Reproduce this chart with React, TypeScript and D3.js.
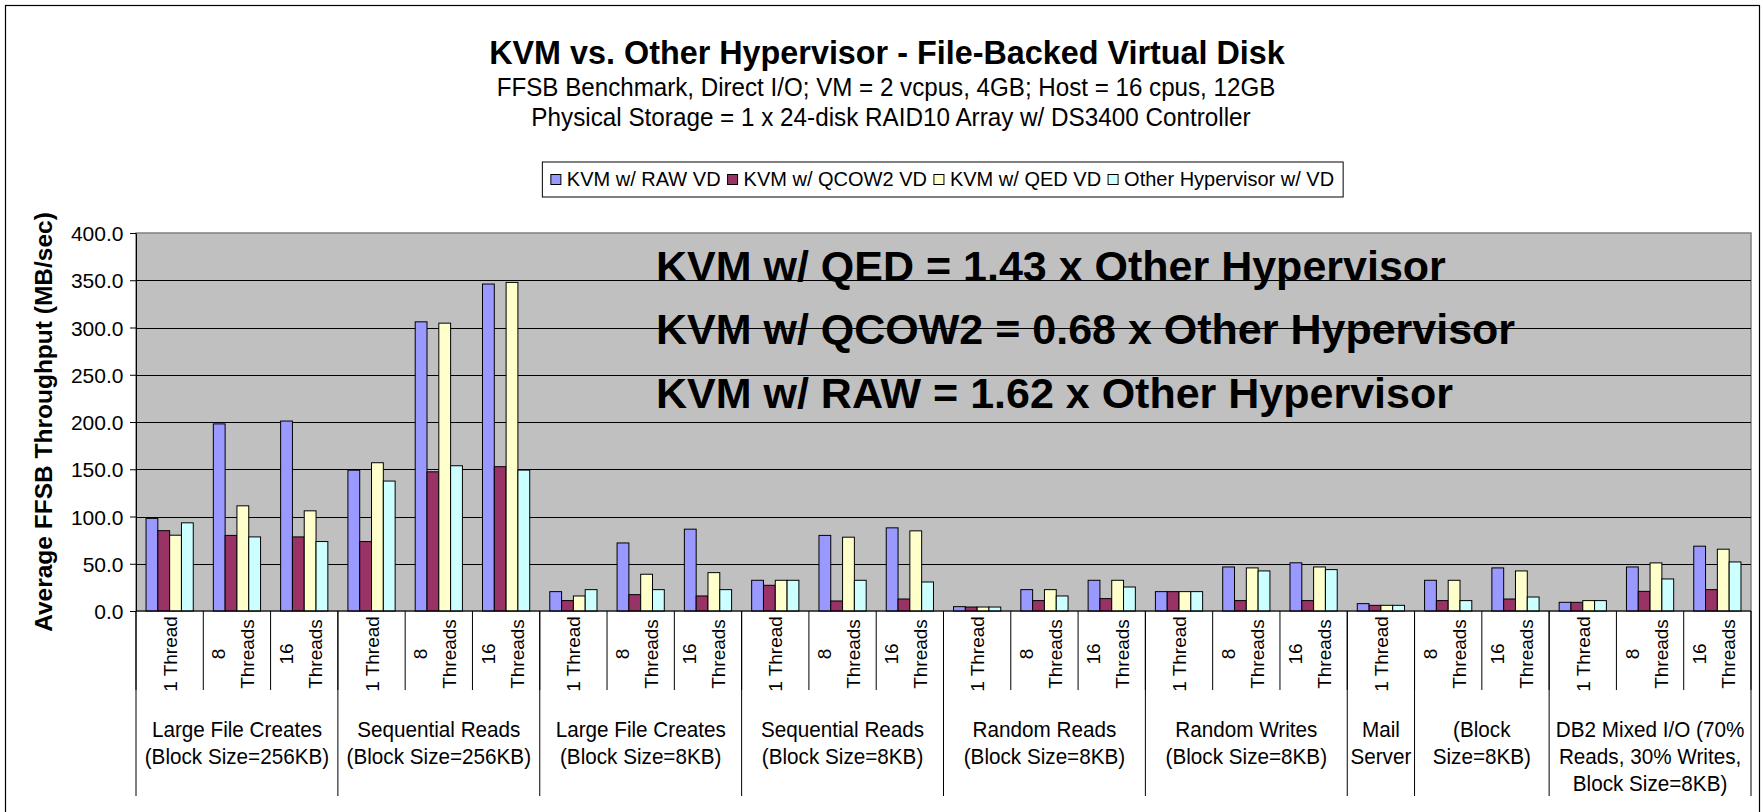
import { useEffect, useRef } from "react";
import * as d3 from "d3";

// series + colours (Excel default palette)
const series = ["KVM w/ RAW VD", "KVM w/ QCOW2 VD", "KVM w/ QED VD", "Other Hypervisor w/ VD"];
const colors = ["#9999FF", "#993366", "#FFFFCC", "#CCFFFF"];

// 24 categories, each label as its wrapped lines
const categoryLabels = [
  ["1 Thread"], ["8", "Threads"], ["16", "Threads"],
  ["1 Thread"], ["8", "Threads"], ["16", "Threads"],
  ["1 Thread"], ["8", "Threads"], ["16", "Threads"],
  ["1 Thread"], ["8", "Threads"], ["16", "Threads"],
  ["1 Thread"], ["8", "Threads"], ["16", "Threads"],
  ["1 Thread"], ["8", "Threads"], ["16", "Threads"],
  ["1 Thread"],
  ["8", "Threads"], ["16", "Threads"],
  ["1 Thread"], ["8", "Threads"], ["16", "Threads"],
];

const groupLabels = [
  ["Large File Creates", "(Block Size=256KB)"],
  ["Sequential Reads", "(Block Size=256KB)"],
  ["Large File Creates", "(Block Size=8KB)"],
  ["Sequential Reads", "(Block Size=8KB)"],
  ["Random Reads", "(Block Size=8KB)"],
  ["Random Writes", "(Block Size=8KB)"],
  ["Mail", "Server"],
  ["(Block", "Size=8KB)"],
  ["DB2 Mixed I/O (70%", "Reads, 30% Writes,", "Block Size=8KB)"],
];
const groupSizes = [3, 3, 3, 3, 3, 3, 1, 2, 3];

// MB/sec
const rawVD = [98, 198, 201, 149, 306, 346, 20.5, 72, 86.6, 32.5, 80, 88, 4.6, 22.6, 32.5, 20.5, 46.6, 51, 7.8, 32.5, 45.6, 9.2, 46.6, 68.6];
const qcow2VD = [85, 80, 78.4, 73.5, 147.3, 152.7, 11, 17.3, 15.9, 27.2, 10.6, 12.7, 4.2, 11, 13.1, 20.5, 11, 11, 6, 11, 12.7, 9.2, 20.8, 22.6];
const qedVD = [80.2, 111.3, 106, 156.9, 304.6, 347.7, 15.9, 38.9, 40.6, 32.5, 78.1, 84.8, 4.2, 22.6, 32.5, 20.5, 45.6, 46.6, 6, 32.5, 42.4, 11, 50.9, 65.4];
const otherVD = [93.3, 78.4, 73.5, 137.5, 153.7, 149.1, 22.6, 22.6, 22.6, 32.5, 32.5, 30.7, 4.2, 15.9, 25.4, 20.5, 42.4, 43.8, 6, 11, 14.8, 11, 33.9, 51.9];
const values = [rawVD, qcow2VD, qedVD, otherVD];

const yTicks = [0, 50, 100, 150, 200, 250, 300, 350, 400];

const title = "KVM vs. Other Hypervisor - File-Backed Virtual Disk";
const subtitles = [
  "FFSB Benchmark, Direct I/O; VM = 2 vcpus, 4GB; Host = 16 cpus, 12GB",
  "Physical Storage = 1 x 24-disk RAID10 Array w/ DS3400 Controller",
];
const yTitle = "Average FFSB Throughput (MB/sec)";
const notes = [
  "KVM w/ QED = 1.43 x Other Hypervisor",
  "KVM w/ QCOW2 = 0.68 x Other Hypervisor",
  "KVM w/ RAW = 1.62 x Other Hypervisor",
];

export default function App() {
  const ref = useRef<SVGSVGElement>(null);

  useEffect(() => {
    const width = 1764;
    const height = 812;
    const left = 136, right = 1751, top = 233, bottom = 611;
    const font = "'Liberation Sans', Arial, sans-serif";

    const svg = d3.select(ref.current);
    svg.selectAll("*").remove();
    svg.attr("width", width).attr("height", height)
      .attr("viewBox", `0 0 ${width} ${height}`)
      .style("font-family", font);

    // text placed at (x,y), optionally fitted to a width
    const addText = (parent: any, x: number, y: number, str: string, size: number,
      o: { anchor?: string; weight?: string; sx?: number; rotate?: number; fit?: number } = {}) => {
      const t = parent.append("text")
        .attr("text-anchor", o.anchor ?? "middle")
        .attr("font-size", size)
        .attr("font-weight", o.weight ?? "normal")
        .attr("fill", "#000")
        .text(str);
      let sx = o.sx ?? 1;
      if (o.fit) sx = o.fit / t.node().getComputedTextLength();
      t.attr("transform", `translate(${x},${y}) scale(${sx},1)${o.rotate ? ` rotate(${o.rotate})` : ""}`);
      return t;
    };

    svg.append("rect")
      .attr("x", 0).attr("y", 0).attr("width", width).attr("height", height)
      .attr("fill", "#fff");
    svg.append("rect")
      .attr("x", 5.5).attr("y", 5.5).attr("width", 1754).attr("height", 840)
      .attr("fill", "none").attr("stroke", "#000").attr("stroke-width", 1.2);

    // titles (slightly condensed, as in the original export)
    addText(svg, 887, 64, title, 34, { weight: "bold", fit: 796 });
    addText(svg, 886, 95.5, subtitles[0], 25.5, { fit: 779 });
    addText(svg, 891, 126, subtitles[1], 25.5, { fit: 720 });

    const x = d3.scaleBand<number>().domain(d3.range(categoryLabels.length)).range([left, right]).padding(0);
    const bw = x.bandwidth();
    const xs = d3.scaleBand<string>().domain(series).range([0, bw]).paddingInner(0).paddingOuter(0.85);
    const y = d3.scaleLinear().domain([0, 400]).range([bottom, top]);

    // plot area
    svg.append("rect")
      .attr("x", left).attr("y", top).attr("width", right - left).attr("height", bottom - top)
      .attr("fill", "#C0C0C0").attr("stroke", "#808080").attr("stroke-width", 1.5);

    svg.append("g")
      .selectAll("line")
      .data(yTicks.filter(t => t > 0 && t < 400))
      .join("line")
      .attr("x1", left).attr("x2", right)
      .attr("y1", d => Math.round(y(d)) + 0.5).attr("y2", d => Math.round(y(d)) + 0.5)
      .attr("stroke", "#000").attr("stroke-width", 1);

    // bars
    series.forEach((s, si) => {
      svg.append("g")
        .selectAll("rect")
        .data(values[si])
        .join("rect")
        .attr("x", (_, i) => x(i)! + xs(s)!)
        .attr("y", d => y(d))
        .attr("width", xs.bandwidth())
        .attr("height", d => bottom - y(d))
        .attr("fill", colors[si])
        .attr("stroke", "#000")
        .attr("stroke-width", 1);
    });

    // y axis
    const yAxis = svg.append("g")
      .attr("transform", `translate(${left},0)`)
      .call(d3.axisLeft(y).tickValues(yTicks).tickSize(6).tickSizeOuter(0).tickFormat(d3.format(".1f")));
    yAxis.select(".domain").attr("stroke", "#000");
    yAxis.selectAll(".tick line").attr("stroke", "#000");
    yAxis.selectAll(".tick text")
      .attr("font-family", font).attr("font-size", 21).attr("fill", "#000")
      .attr("x", -12.5).attr("dy", "0.36em");

    // x axis line + category dividers
    svg.append("line")
      .attr("x1", left).attr("x2", right).attr("y1", bottom).attr("y2", bottom)
      .attr("stroke", "#000");
    svg.append("g")
      .selectAll("line")
      .data(d3.range(categoryLabels.length + 1))
      .join("line")
      .attr("x1", i => left + i * bw).attr("x2", i => left + i * bw)
      .attr("y1", bottom).attr("y2", 690)
      .attr("stroke", "#000");

    const bounds = [0, ...d3.cumsum(groupSizes)];
    svg.append("g")
      .selectAll("line")
      .data(bounds)
      .join("line")
      .attr("x1", b => left + b * bw).attr("x2", b => left + b * bw)
      .attr("y1", bottom).attr("y2", 796)
      .attr("stroke", "#000");

    // category labels (rotated)
    const catG = svg.append("g");
    categoryLabels.forEach((lines, i) => {
      const cx = x(i)! + bw / 2;
      const offs = lines.length === 1 ? [7] : [-11.5, 17.5];
      lines.forEach((ln, k) => addText(catG, cx + offs[k], 654, ln, 19, { rotate: -90 }));
    });

    // group labels
    const grpG = svg.append("g");
    groupLabels.forEach((lines, gi) => {
      const gx = left + ((bounds[gi] + bounds[gi + 1]) / 2) * bw;
      lines.forEach((ln, k) => addText(grpG, gx, 737 + k * 27, ln, 22, { sx: 0.94 }));
    });

    // y axis title
    addText(svg, 52, (top + bottom) / 2, yTitle, 24.5, { weight: "bold", rotate: -90 });

    // annotations
    notes.forEach((n, i) => addText(svg, 656, 280.5 + i * 63.5, n, 43, { weight: "bold", anchor: "start" }));

    // legend
    const leg = svg.append("g");
    const box = leg.append("rect").attr("fill", "#fff").attr("stroke", "#000").attr("stroke-width", 1);
    const items = series.map((s, i) => {
      const g = leg.append("g");
      g.append("rect").attr("width", 10).attr("height", 10).attr("y", 174.5)
        .attr("fill", colors[i]).attr("stroke", "#000").attr("stroke-width", 1);
      const t = addText(g, 0, 186, s, 20, { anchor: "start" });
      const w = t.node().getComputedTextLength();
      return { g, t, w };
    });
    const gap = 6;
    const total = d3.sum(items, d => 17 + d.w) + gap * (items.length - 1);
    let cx = 943 - total / 2;
    items.forEach(d => {
      d.g.select("rect").attr("x", cx);
      d.t.attr("transform", `translate(${cx + 16},186)`);
      cx += 17 + d.w + gap;
    });
    box.attr("x", 943 - total / 2 - 8.5).attr("y", 162)
      .attr("width", total + 16.5).attr("height", 35);
  }, []);

  return <svg ref={ref} style={{ position: "absolute", left: 0, top: 0 }}></svg>;
}
